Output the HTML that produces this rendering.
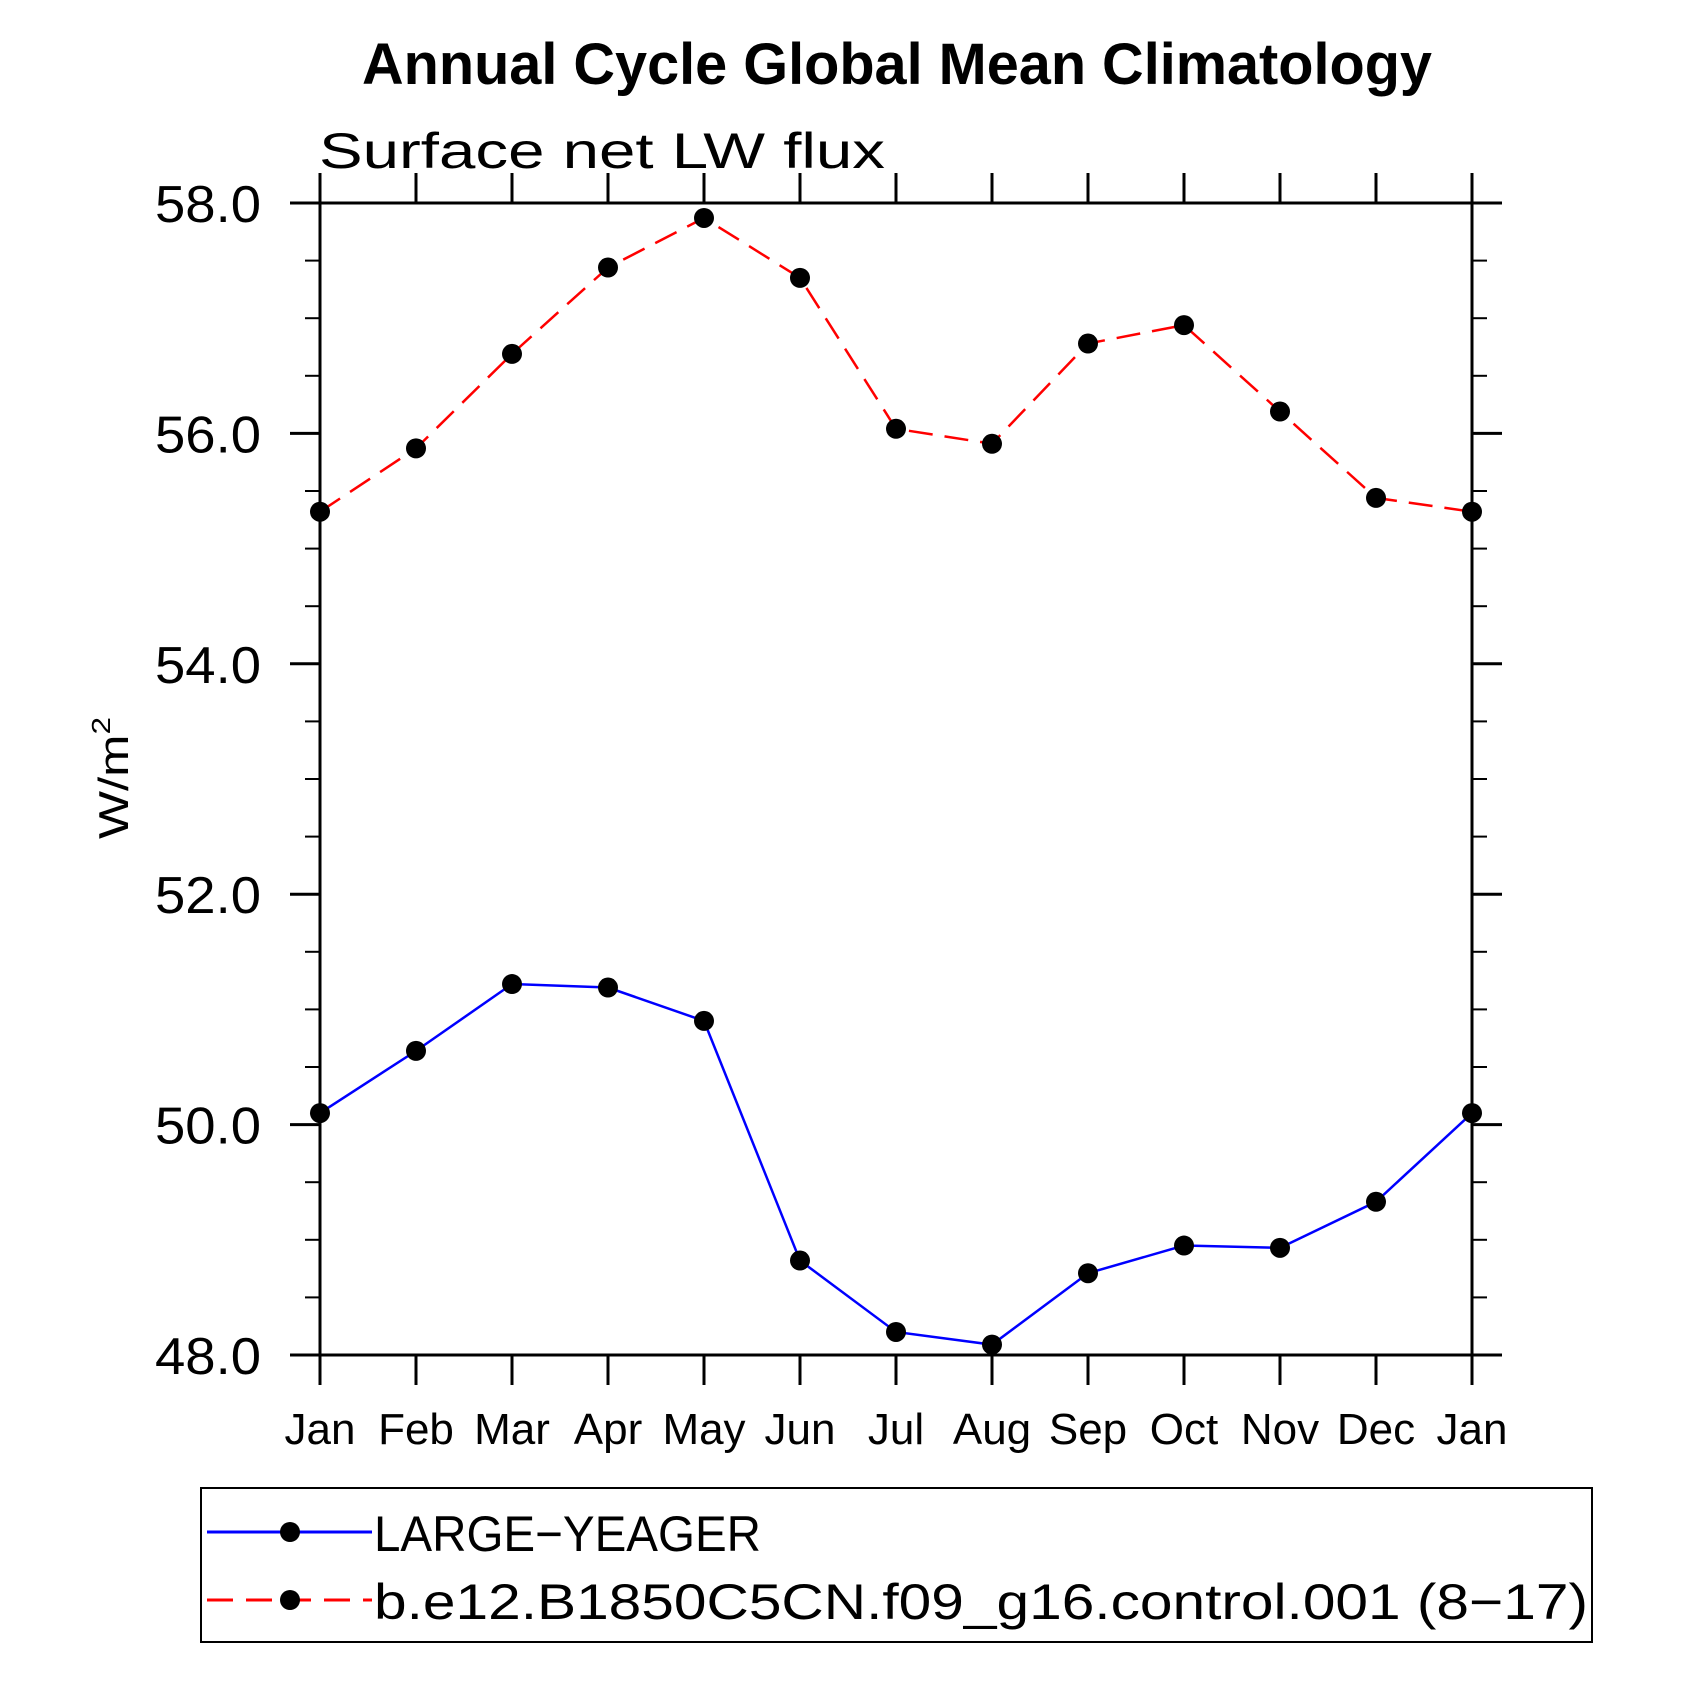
<!DOCTYPE html>
<html><head><meta charset="utf-8">
<style>
html,body{margin:0;padding:0;background:#fff;}
svg{display:block;}
text{font-family:"Liberation Sans",sans-serif;}
</style></head>
<body>
<svg id="chart" width="1681" height="1681" viewBox="0 0 1681 1681" xmlns="http://www.w3.org/2000/svg">
<rect width="1681" height="1681" fill="#fff"/>
<text x="897" y="84" font-size="58" font-weight="bold" text-anchor="middle" textLength="1070" lengthAdjust="spacingAndGlyphs">Annual Cycle Global Mean Climatology</text>
<text x="319" y="168" font-size="50" textLength="566" lengthAdjust="spacingAndGlyphs" font-weight="300">Surface net LW flux</text>
<text transform="translate(128,778) rotate(-90)" font-size="42" text-anchor="middle" textLength="122" lengthAdjust="spacingAndGlyphs">W/m<tspan font-size="26" dy="-18">2</tspan></text>
<g id="axes"></g>
<g id="series"></g>
<g>
<rect x="201" y="1488" width="1391" height="154" fill="none" stroke="#000" stroke-width="2"/>
<g>
<line x1="207" y1="1532" x2="372" y2="1532" stroke="#0000ff" stroke-width="3"/>
<circle cx="290" cy="1532" r="10" fill="#000"/>
<text x="374" y="1551" font-size="50" textLength="387" lengthAdjust="spacingAndGlyphs">LARGE−YEAGER</text>
</g>
<g>
<line x1="207" y1="1600" x2="372" y2="1600" stroke="#ff0000" stroke-width="3" stroke-dasharray="26,13"/>
<circle cx="290" cy="1600" r="10" fill="#000"/>
<text x="374" y="1619" font-size="50" textLength="1214" lengthAdjust="spacingAndGlyphs">b.e12.B1850C5CN.f09_g16.control.001 (8−17)</text>
</g>
</g>
</svg>
<script>
const months = ["Jan","Feb","Mar","Apr","May","Jun","Jul","Aug","Sep","Oct","Nov","Dec","Jan"];
const largeYeager = [50.10,50.64,51.22,51.19,50.90,48.82,48.20,48.09,48.71,48.95,48.93,49.33,50.10];
const control = [55.32,55.87,56.69,57.44,57.87,57.35,56.04,55.91,56.78,56.94,56.19,55.44,55.32];
const yTicks = [48,50,52,54,56,58];
const yTickLabels = ["48.0","50.0","52.0","54.0","56.0","58.0"];
const yMin = 48, yMax = 58;

const L=320, R=1472, T=203, B=1355;
const NS="http://www.w3.org/2000/svg";
function xS(i){return L + (R-L)*i/(months.length-1);}
function yS(v){return B - (B-T)*(v-yMin)/(yMax-yMin);}
function mk(tag, attrs, parent){const e=document.createElementNS(NS,tag);for(const k in attrs)e.setAttribute(k,attrs[k]);parent.appendChild(e);return e;}
const axes=document.getElementById('axes');
const frame=mk('rect',{x:L,y:T,width:R-L,height:B-T,fill:'none',stroke:'#000','stroke-width':3},axes);


months.forEach((m,i)=>{
  const x=xS(i);
  const t1=mk('line',{x1:x,y1:B,x2:x,y2:B+30,stroke:'#000','stroke-width':3},axes);
  
  
  const t2=mk('line',{x1:x,y1:T,x2:x,y2:T-30,stroke:'#000','stroke-width':3},axes);
  
  
  const lb=mk('text',{x:x,y:1444,'font-size':44,'text-anchor':'middle'},axes);
  lb.textContent=m;
  
  
});
for(let v=yMin; v<=yMax+1e-9; v+=0.5){
  if(Math.abs(v-Math.round(v/2)*2)<1e-9) continue;
  const y=yS(v);
  const a=mk('line',{x1:L-15,y1:y,x2:L,y2:y,stroke:'#000','stroke-width':2},axes);
  
  
  const b=mk('line',{x1:R,y1:y,x2:R+15,y2:y,stroke:'#000','stroke-width':2},axes);
  
  
}
yTicks.forEach((v,i)=>{
  const y=yS(v);
  const a=mk('line',{x1:L-30,y1:y,x2:L,y2:y,stroke:'#000','stroke-width':3},axes);
  
  
  const b=mk('line',{x1:R,y1:y,x2:R+30,y2:y,stroke:'#000','stroke-width':3},axes);
  
  
  const lb=mk('text',{x:261,y:y+19,'font-size':52,'text-anchor':'end',textLength:106,lengthAdjust:'spacingAndGlyphs'},axes);
  lb.textContent=yTickLabels[i];
  
  
});
const series=document.getElementById('series');
function drawSeries(vals,color,dash,name){
  const g=mk('g',{},series);
  
  
  const pts=vals.map((v,i)=>xS(i)+','+yS(v)).join(' ');
  const pl=mk('polyline',{points:pts,fill:'none',stroke:color,'stroke-width':2.5},g);
  if(dash) pl.setAttribute('stroke-dasharray',dash);
  
  
  vals.forEach((v,i)=>{
    const c=mk('circle',{cx:xS(i),cy:yS(v),r:10,fill:'#000'},g);
    
    
  });
}
drawSeries(control,'#ff0000','24,12','control-series');
drawSeries(largeYeager,'#0000ff',null,'large-yeager-series');
</script>
</body></html>
